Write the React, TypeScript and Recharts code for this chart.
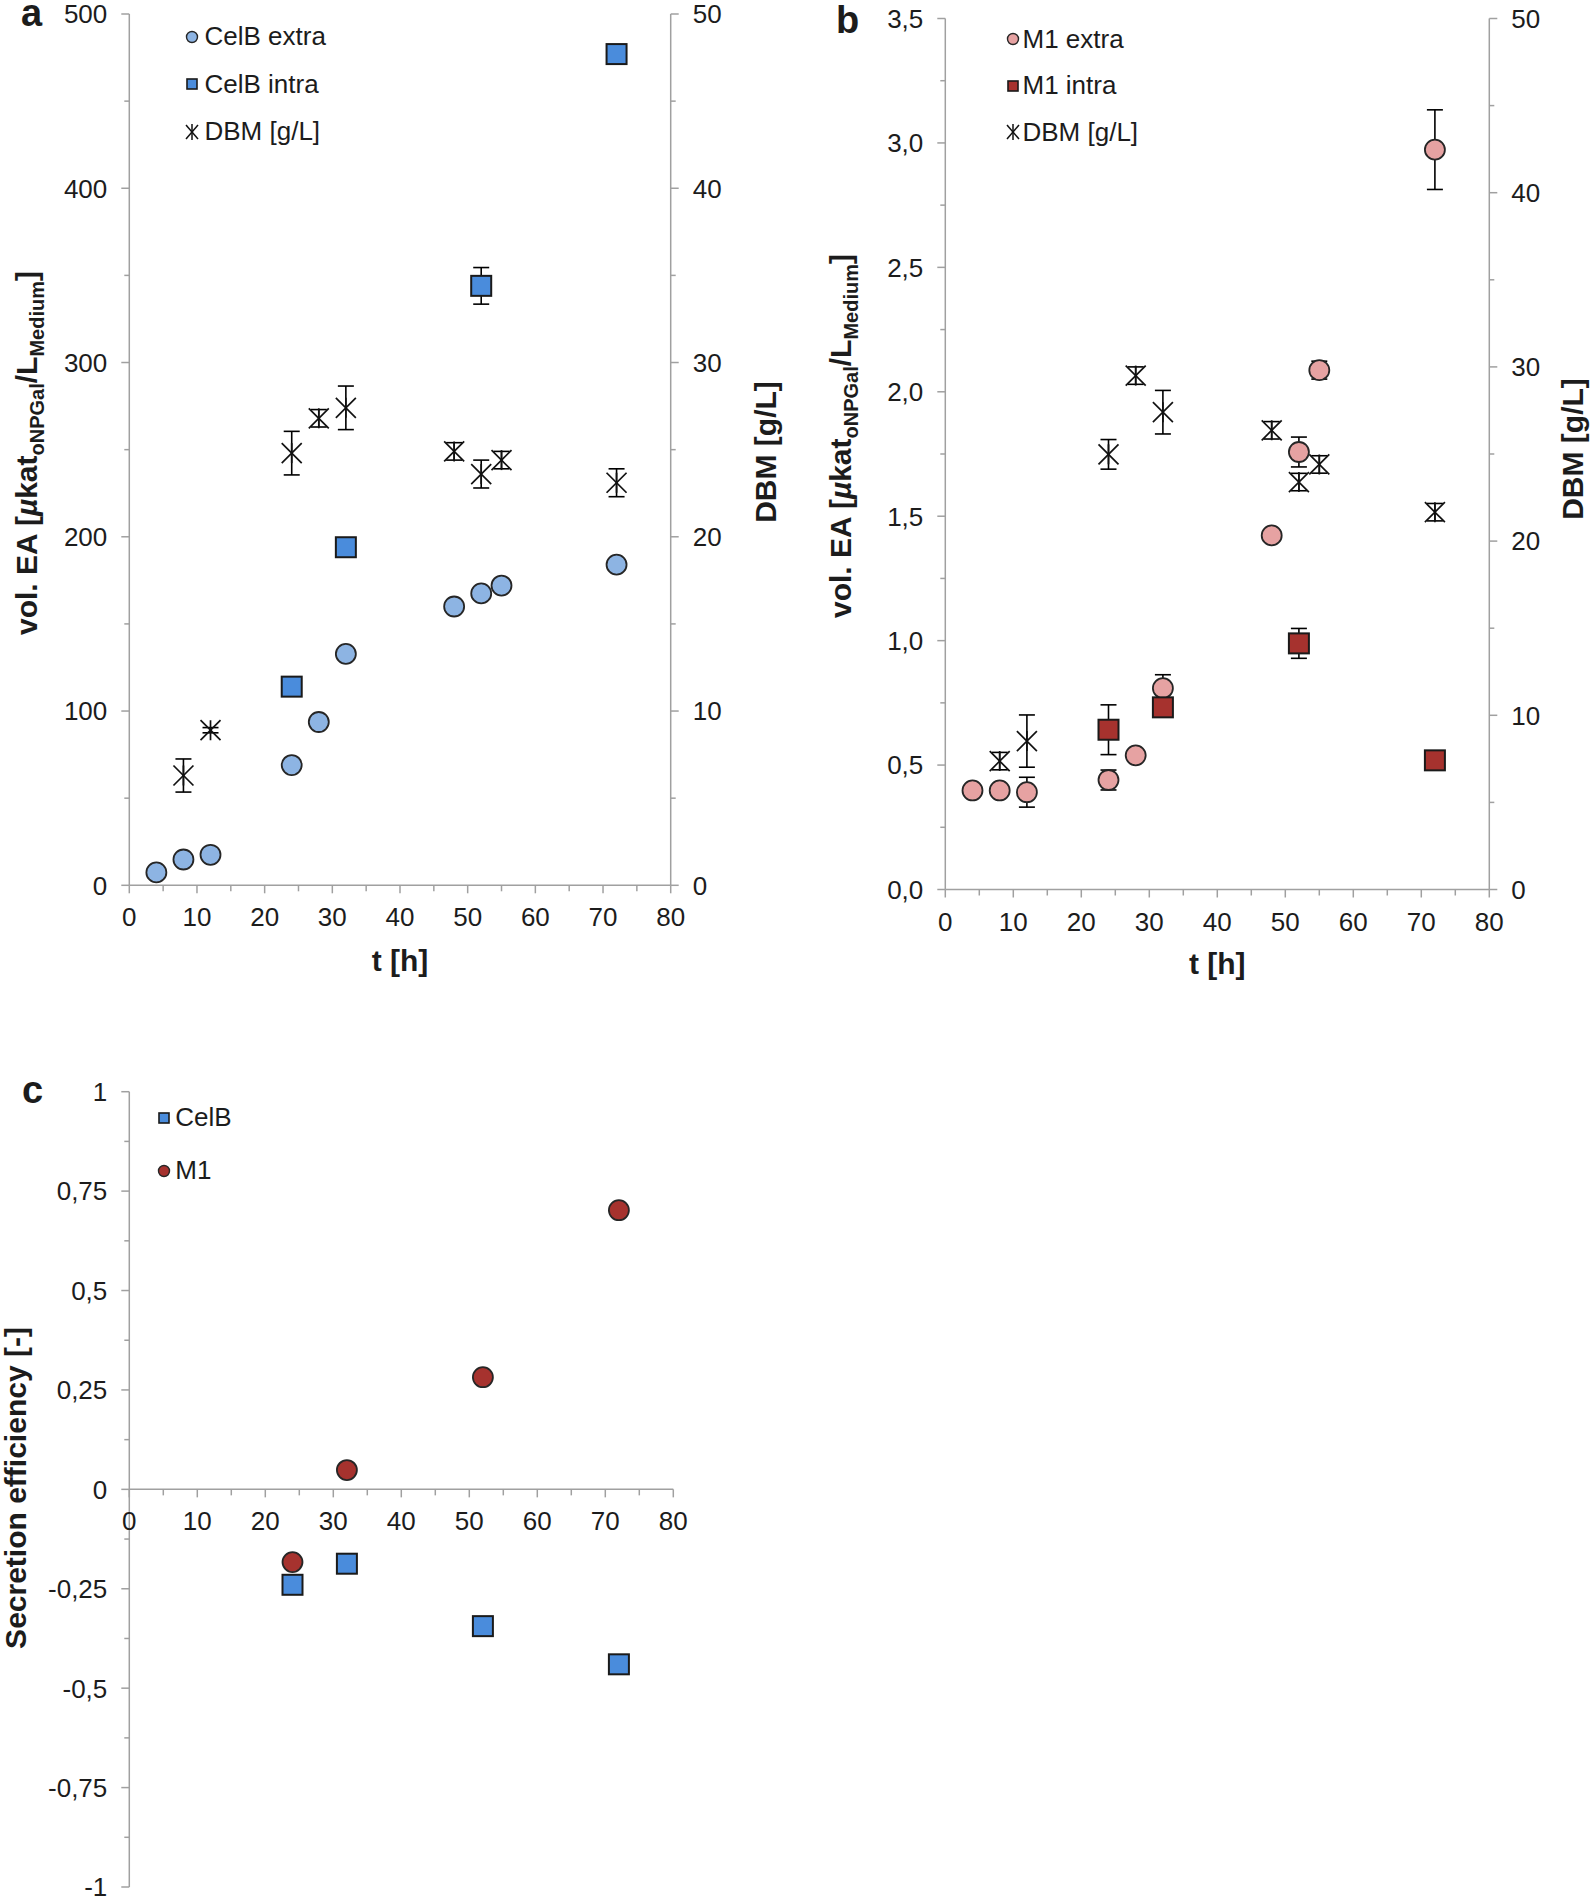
import React from 'react';
import {
  ScatterChart,
  Scatter,
  XAxis,
  YAxis,
  ErrorBar,
  Legend,
  ReferenceLine,
  ReferenceDot,
  Label,
} from 'recharts';

const FONT = '"Liberation Sans", Arial, Helvetica, sans-serif';
const AXIS = '#a0a0a0';
const INK = '#1c1c1c';
const TICK_FS = 26;
const TITLE_FS = 30;

// ---------- colours ----------
const CELB_EXTRA = '#8db4e3';
const CELB_INTRA = '#4a8cdc';
const M1_EXTRA = '#e6a2a2';
const M1_INTRA = '#a6322e';

// ---------- ticks ----------
const timeMajor = [0, 10, 20, 30, 40, 50, 60, 70, 80];
const timeMinor = [5, 15, 25, 35, 45, 55, 65, 75];
const aLeftMajor = [0, 100, 200, 300, 400, 500];
const aLeftMinor = [50, 150, 250, 350, 450];
const dbmMajor = [0, 10, 20, 30, 40, 50];
const dbmMinor = [5, 15, 25, 35, 45];
const bLeftMajor = [0, 0.5, 1, 1.5, 2, 2.5, 3, 3.5];
const bLeftMinor = [0.25, 0.75, 1.25, 1.75, 2.25, 2.75, 3.25];
const cMajor = [-1, -0.75, -0.5, -0.25, 0, 0.25, 0.5, 0.75, 1];
const cMinor = [-0.875, -0.625, -0.375, -0.125, 0.125, 0.375, 0.625, 0.875];

// ---------- panel a data ----------
const aExtraTime = [4, 8, 12, 24, 28, 32, 48, 52, 55, 72];
const aExtraEA = [7.4, 14.8, 17.5, 69, 93.7, 132.8, 160, 167.5, 172, 184];
const aIntraTime = [24, 32, 52, 72];
const aIntraEA = [114, 194, 344, 477];
const aIntraErr = [0, 0, 10.5, 0];
const aDbmTime = [8, 12, 24, 28, 32, 48, 52, 55, 72];
const aDbm = [6.3, 8.9, 24.8, 26.8, 27.4, 24.9, 23.6, 24.4, 23.1];
const aDbmErr = [0.95, 0.15, 1.25, 0.5, 1.25, 0.5, 0.8, 0.5, 0.8];

// ---------- panel b data ----------
const bExtraTime = [4, 8, 12, 24, 28, 32, 48, 52, 55, 72];
const bExtraEA = [0.398, 0.398, 0.391, 0.44, 0.539, 0.809, 1.423, 1.758, 2.087, 2.973];
const bExtraErr = [0, 0, 0.06, 0.04, 0, 0.054, 0, 0.06, 0.036, 0.16];
const bIntraTime = [24, 32, 52, 72];
const bIntraEA = [0.642, 0.732, 0.989, 0.519];
const bIntraErr = [0.1, 0, 0.06, 0];
const bDbmTime = [8, 12, 24, 28, 32, 48, 52, 55, 72];
const bDbm = [7.37, 8.52, 24.98, 29.5, 27.4, 26.36, 23.39, 24.4, 21.66];
const bDbmErr = [0.5, 1.5, 0.85, 0.5, 1.25, 0.5, 0.5, 0.5, 0.5];

// ---------- panel c data ----------
const cTime = [24, 32, 52, 72];
const cCelB = [-0.24, -0.187, -0.344, -0.44];
const cM1 = [-0.183, 0.0485, 0.282, 0.702];

// ---------- helpers ----------
type Pt = { x: number; y: number; err?: number };
const toPoints = (xs: number[], ys: number[], errs?: number[]): Pt[] =>
  xs.map((x, i) => ({ x, y: ys[i], err: errs && errs[i] ? errs[i] : undefined }));
const merge = (a: number[], b: number[]) => [...a, ...b].sort((p, q) => p - q);
const isIn = (arr: number[], v: number) => arr.some((m) => Math.abs(m - v) < 1e-9);

const fmtInt = (v: number) => String(v);
const fmtComma1 = (v: number) => v.toFixed(1).replace('.', ',');
const fmtComma = (v: number) => String(v).replace('.', ',');

const yTick = (side: 'left' | 'right', majors: number[], fmt: (v: number) => string) => (props: any) => {
  const { x, y, payload } = props;
  const v = Number(payload.value);
  const major = isIn(majors, v);
  const dir = side === 'left' ? -1 : 1;
  const len = major ? 8 : 5;
  return (
    <g>
      <line x1={x} x2={x + dir * len} y1={y} y2={y} stroke={AXIS} strokeWidth={1.5} />
      {major && (
        <text
          x={x + dir * 22}
          y={y}
          dy="0.36em"
          textAnchor={side === 'left' ? 'end' : 'start'}
          fontFamily={FONT}
          fontSize={TICK_FS}
          fill={INK}
        >
          {fmt(v)}
        </text>
      )}
    </g>
  );
};

const xTick = (majors: number[]) => (props: any) => {
  const { x, y, payload } = props;
  const v = Number(payload.value);
  const major = isIn(majors, v);
  return (
    <g>
      <line x1={x} x2={x} y1={y} y2={y + (major ? 8 : 6)} stroke={AXIS} strokeWidth={1.5} />
      {major && (
        <text x={x} y={y + 41} textAnchor="middle" fontFamily={FONT} fontSize={TICK_FS} fill={INK}>
          {String(v)}
        </text>
      )}
    </g>
  );
};

// ---------- marker shapes ----------
const circleShape = (fill: string) => (p: any) => (
  <circle cx={p.cx} cy={p.cy} r={10} fill={fill} stroke="#262626" strokeWidth={1.8} />
);
const squareShape = (fill: string) => (p: any) => (
  <rect x={p.cx - 10} y={p.cy - 10} width={20} height={20} fill={fill} stroke="#1a1a1a" strokeWidth={2} />
);
const dbmShape = (p: any) => (
  <g stroke="#111" strokeWidth={1.7}>
    <line x1={p.cx - 10} y1={p.cy - 10} x2={p.cx + 10} y2={p.cy + 10} />
    <line x1={p.cx - 10} y1={p.cy + 10} x2={p.cx + 10} y2={p.cy - 10} />
    <line x1={p.cx} y1={p.cy - 10} x2={p.cx} y2={p.cy + 10} />
  </g>
);

// ---------- legend ----------
const LegendIcon = ({ type, color }: { type: string; color: string }) => (
  <svg width={16} height={18} style={{ display: 'block', flex: '0 0 auto' }}>
    {type === 'circle' && <circle cx={8} cy={9} r={5.5} fill={color} stroke="#262626" strokeWidth={1.4} />}
    {type === 'square' && <rect x={3} y={4} width={10} height={10} fill={color} stroke="#1a1a1a" strokeWidth={1.6} />}
    {type === 'cross' && (
      <g stroke="#111" strokeWidth={1.5}>
        <line x1={2} y1={2} x2={14} y2={16} />
        <line x1={2} y1={16} x2={14} y2={2} />
        <line x1={8} y1={1} x2={8} y2={17} />
      </g>
    )}
  </svg>
);

const makeLegend = (order: string[], rowH: number, textGap: number) => (props: any) => {
  const payload: any[] = props.payload || [];
  const items = order.map((n) => payload.find((p) => p.value === n)).filter(Boolean);
  return (
    <div style={{ position: 'relative', fontFamily: FONT, fontSize: TICK_FS, color: INK }}>
      {items.map((it: any, i: number) => (
        <div
          key={it.value}
          style={{
            position: 'absolute',
            left: 0,
            top: i * rowH,
            height: rowH,
            display: 'flex',
            alignItems: 'center',
            whiteSpace: 'nowrap',
          }}
        >
          <LegendIcon type={it.type} color={it.color} />
          <span style={{ marginLeft: textGap }}>{it.value}</span>
        </div>
      ))}
    </div>
  );
};

// ---------- titles ----------
const VolTitle = ({ x, y }: { x: number; y: number }) => (
  <text
    transform={`rotate(-90 ${x} ${y})`}
    x={x}
    y={y}
    textAnchor="middle"
    fontFamily={FONT}
    fontWeight="bold"
    fontSize={TITLE_FS}
    fill={INK}
  >
    <tspan>vol. EA [</tspan>
    <tspan fontStyle="italic">µ</tspan>
    <tspan>kat</tspan>
    <tspan fontSize={20} dy={7}>oNPGal</tspan>
    <tspan dy={-7}>/L</tspan>
    <tspan fontSize={20} dy={7}>Medium</tspan>
    <tspan dy={-7}>]</tspan>
  </text>
);

const RotTitle = ({ x, y, text }: { x: number; y: number; text: string }) => (
  <text
    transform={`rotate(-90 ${x} ${y})`}
    x={x}
    y={y}
    textAnchor="middle"
    fontFamily={FONT}
    fontWeight="bold"
    fontSize={TITLE_FS}
    fill={INK}
  >
    {text}
  </text>
);

const PanelLetter = ({ x, y, text }: { x: number; y: number; text: string }) => (
  <text x={x} y={y} fontFamily={FONT} fontWeight="bold" fontSize={38} fill={INK}>
    {text}
  </text>
);

const HTitle = ({ x, y, text }: { x: number; y: number; text: string }) => (
  <text x={x} y={y} textAnchor="middle" fontFamily={FONT} fontWeight="bold" fontSize={TITLE_FS} fill={INK}>
    {text}
  </text>
);

const axisLineStyle = { stroke: AXIS, strokeWidth: 1.5 };

// ---------- panel a ----------
const PanelA = () => (
  <ScatterChart width={800} height={1000} margin={{ top: 14, right: 39.3, bottom: 54.7, left: 59.3 }}>
    <XAxis
      type="number"
      dataKey="x"
      domain={[0, 80]}
      ticks={merge(timeMajor, timeMinor)}
      interval={0}
      tick={xTick(timeMajor)}
      tickLine={false}
      tickSize={0}
      tickMargin={0}
      height={60}
      axisLine={axisLineStyle}
      allowDataOverflow
    >
      <Label content={() => <HTitle x={400} y={971} text="t [h]" />} />
    </XAxis>
    <YAxis
      yAxisId="left"
      type="number"
      dataKey="y"
      domain={[0, 500]}
      ticks={merge(aLeftMajor, aLeftMinor)}
      interval={0}
      tick={yTick('left', aLeftMajor, fmtInt)}
      tickLine={false}
      tickSize={0}
      tickMargin={0}
      width={70}
      axisLine={axisLineStyle}
      allowDataOverflow
    >
      <Label
        content={() => (
          <g>
            <VolTitle x={37} y={453} />
            <PanelLetter x={21} y={25.5} text="a" />
          </g>
        )}
      />
    </YAxis>
    <YAxis
      yAxisId="right"
      orientation="right"
      type="number"
      dataKey="y"
      domain={[0, 50]}
      ticks={merge(dbmMajor, dbmMinor)}
      interval={0}
      tick={yTick('right', dbmMajor, fmtInt)}
      tickLine={false}
      tickSize={0}
      tickMargin={0}
      width={90}
      axisLine={axisLineStyle}
      allowDataOverflow
    >
      <Label content={() => <RotTitle x={776} y={452} text="DBM [g/L]" />} />
    </YAxis>
    <Legend
      layout="vertical"
      align="center"
      verticalAlign="middle"
      wrapperStyle={{ left: 184, top: 12.9, width: 300, height: 150 }}
      content={makeLegend(['CelB extra', 'CelB intra', 'DBM [g/L]'], 47.6, 4.5)}
    />
    <Scatter
      yAxisId="right"
      name="DBM [g/L]"
      data={toPoints(aDbmTime, aDbm, aDbmErr)}
      fill="#111"
      legendType="cross"
      shape={dbmShape}
      isAnimationActive={false}
    >
      <ErrorBar dataKey="err" direction="y" width={8} stroke="#000" strokeWidth={1.6} isAnimationActive={false} />
    </Scatter>
    <Scatter
      yAxisId="left"
      name="CelB extra"
      data={toPoints(aExtraTime, aExtraEA)}
      fill={CELB_EXTRA}
      legendType="circle"
      shape={circleShape(CELB_EXTRA)}
      isAnimationActive={false}
    />
    <Scatter
      yAxisId="left"
      name="CelB intra"
      data={toPoints(aIntraTime, aIntraEA, aIntraErr)}
      fill={CELB_INTRA}
      legendType="square"
      shape={squareShape(CELB_INTRA)}
      isAnimationActive={false}
    >
      <ErrorBar dataKey="err" direction="y" width={8} stroke="#000" strokeWidth={1.6} isAnimationActive={false} />
    </Scatter>
  </ScatterChart>
);

// ---------- panel b ----------
const PanelB = () => (
  <ScatterChart width={795} height={1000} margin={{ top: 18.5, right: 15.7, bottom: 50.5, left: 75.3 }}>
    <XAxis
      type="number"
      dataKey="x"
      domain={[0, 80]}
      ticks={merge(timeMajor, timeMinor)}
      interval={0}
      tick={xTick(timeMajor)}
      tickLine={false}
      tickSize={0}
      tickMargin={0}
      height={60}
      axisLine={axisLineStyle}
      allowDataOverflow
    >
      <Label content={() => <HTitle x={417.3} y={974} text="t [h]" />} />
    </XAxis>
    <YAxis
      yAxisId="left"
      type="number"
      dataKey="y"
      domain={[0, 3.5]}
      ticks={merge(bLeftMajor, bLeftMinor)}
      interval={0}
      tick={yTick('left', bLeftMajor, fmtComma1)}
      tickLine={false}
      tickSize={0}
      tickMargin={0}
      width={70}
      axisLine={axisLineStyle}
      allowDataOverflow
    >
      <Label
        content={() => (
          <g>
            <VolTitle x={51} y={436} />
            <PanelLetter x={36} y={32.5} text="b" />
          </g>
        )}
      />
    </YAxis>
    <YAxis
      yAxisId="right"
      orientation="right"
      type="number"
      dataKey="y"
      domain={[0, 50]}
      ticks={merge(dbmMajor, dbmMinor)}
      interval={0}
      tick={yTick('right', dbmMajor, fmtInt)}
      tickLine={false}
      tickSize={0}
      tickMargin={0}
      width={90}
      axisLine={axisLineStyle}
      allowDataOverflow
    >
      <Label content={() => <RotTitle x={783} y={449} text="DBM [g/L]" />} />
    </YAxis>
    <Legend
      layout="vertical"
      align="center"
      verticalAlign="middle"
      wrapperStyle={{ left: 204.5, top: 15.75, width: 300, height: 150 }}
      content={makeLegend(['M1 extra', 'M1 intra', 'DBM [g/L]'], 46.5, 2)}
    />
    <Scatter
      yAxisId="right"
      name="DBM [g/L]"
      data={toPoints(bDbmTime, bDbm, bDbmErr)}
      fill="#111"
      legendType="cross"
      shape={dbmShape}
      isAnimationActive={false}
    >
      <ErrorBar dataKey="err" direction="y" width={8} stroke="#000" strokeWidth={1.6} isAnimationActive={false} />
    </Scatter>
    <Scatter
      yAxisId="left"
      name="M1 extra"
      data={toPoints(bExtraTime, bExtraEA, bExtraErr)}
      fill={M1_EXTRA}
      legendType="circle"
      shape={circleShape(M1_EXTRA)}
      isAnimationActive={false}
    >
      <ErrorBar dataKey="err" direction="y" width={8} stroke="#000" strokeWidth={1.6} isAnimationActive={false} />
    </Scatter>
    <Scatter
      yAxisId="left"
      name="M1 intra"
      data={toPoints(bIntraTime, bIntraEA, bIntraErr)}
      fill={M1_INTRA}
      legendType="square"
      shape={squareShape(M1_INTRA)}
      isAnimationActive={false}
    >
      <ErrorBar dataKey="err" direction="y" width={8} stroke="#000" strokeWidth={1.6} isAnimationActive={false} />
    </Scatter>
  </ScatterChart>
);

// ---------- panel c ----------
const cTickShape = (t: number) => (p: any) => {
  const major = isIn(timeMajor, t);
  return (
    <g>
      <line x1={p.cx} x2={p.cx} y1={p.cy} y2={p.cy + (major ? 8 : 6)} stroke={AXIS} strokeWidth={1.5} />
      {major && (
        <text x={p.cx} y={p.cy + 41} textAnchor="middle" fontFamily={FONT} fontSize={TICK_FS} fill={INK}>
          {String(t)}
        </text>
      )}
    </g>
  );
};

const PanelC = () => (
  <ScatterChart width={800} height={861} margin={{ top: 51.7, right: 126.7, bottom: 14, left: 59.3 }}>
    <XAxis type="number" dataKey="x" domain={[0, 80]} hide allowDataOverflow />
    <YAxis
      type="number"
      dataKey="y"
      domain={[-1, 1]}
      ticks={merge(cMajor, cMinor)}
      interval={0}
      tick={yTick('left', cMajor, fmtComma)}
      tickLine={false}
      tickSize={0}
      tickMargin={0}
      width={70}
      axisLine={axisLineStyle}
      allowDataOverflow
    >
      <Label
        content={() => (
          <g>
            <RotTitle x={26} y={448} text="Secretion efficiency [-]" />
            <PanelLetter x={22} y={63} text="c" />
          </g>
        )}
      />
    </YAxis>
    <ReferenceLine y={0} stroke={AXIS} strokeWidth={1.5} />
    {merge(timeMajor, timeMinor).map((t) => (
      <ReferenceDot key={`xt-${t}`} x={t} y={0} r={0} ifOverflow="visible" shape={cTickShape(t)} />
    ))}
    <Legend
      layout="vertical"
      align="center"
      verticalAlign="middle"
      wrapperStyle={{ left: 156.3, top: 51.65, width: 300, height: 120 }}
      content={makeLegend(['CelB', 'M1'], 52.7, 3)}
    />
    <Scatter
      name="CelB"
      data={toPoints(cTime, cCelB)}
      fill={CELB_INTRA}
      legendType="square"
      shape={squareShape(CELB_INTRA)}
      isAnimationActive={false}
    />
    <Scatter
      name="M1"
      data={toPoints(cTime, cM1)}
      fill={M1_INTRA}
      legendType="circle"
      shape={circleShape(M1_INTRA)}
      isAnimationActive={false}
    />
  </ScatterChart>
);

export default function App() {
  return (
    <div
      style={{
        position: 'absolute',
        left: 0,
        top: 0,
        width: 1595,
        height: 1901,
        background: '#fff',
        fontFamily: FONT,
        overflow: 'hidden',
      }}
    >
      <div style={{ position: 'absolute', left: 0, top: 0, width: 800, height: 1000 }}>
        <PanelA />
      </div>
      <div style={{ position: 'absolute', left: 800, top: 0, width: 795, height: 1000 }}>
        <PanelB />
      </div>
      <div style={{ position: 'absolute', left: 0, top: 1040, width: 800, height: 861 }}>
        <PanelC />
      </div>
    </div>
  );
}
